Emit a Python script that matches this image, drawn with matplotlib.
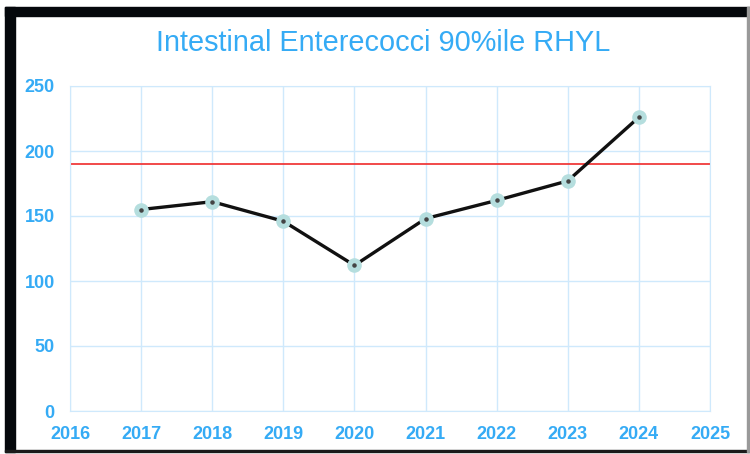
import matplotlib
matplotlib.use("Agg")
import matplotlib.pyplot as plt
from matplotlib.patches import Rectangle

years = [2017, 2018, 2019, 2020, 2021, 2022, 2023, 2024]
values = [155, 161, 146, 112, 148, 162, 177, 226]
limit = 190
x_ticks = list(range(2016, 2026))
y_ticks = [0, 50, 100, 150, 200, 250]

blue = "#35abf5"
grid = "#cfe9fc"

fig = plt.figure(figsize=(7.5, 4.54), dpi=100)
ax = fig.add_axes([70 / 750, 43 / 454, 640 / 750, 325 / 454])

ax.axhline(limit, color="#f03a3a", lw=1.3, zorder=2)
ax.plot(years, values, color="#111111", lw=2.4, zorder=3)
ax.scatter(years, values, s=110, color="#b5dede", zorder=4, linewidths=0)
ax.scatter(years, values, s=5, color="#444444", zorder=5)

ax.set_xlim(2016, 2025)
ax.set_ylim(0, 250)
ax.set_xticks(x_ticks)
ax.set_yticks(y_ticks)
ax.grid(True, color=grid, lw=1)
ax.set_axisbelow(True)
for s in ax.spines.values():
    s.set_color(grid)
ax.tick_params(length=0, colors=blue, labelsize=13, pad=11)
for lab in ax.get_xticklabels() + ax.get_yticklabels():
    lab.set_fontweight("bold")
    lab.set_fontfamily("Liberation Sans")

fig.text(383 / 750, 1 - 43 / 454, "Intestinal Enterecocci 90%ile RHYL",
         color=blue, fontsize=20.8, ha="center", va="center", family="Liberation Sans")

# frame around the chart
fig.patches.append(Rectangle((5 / 750, 1 - 16 / 454), 745 / 750, 9 / 454,
                             transform=fig.transFigure, color="#05080c"))
fig.patches.append(Rectangle((5 / 750, 1 - 452 / 454), 10 / 750, 445 / 454,
                             transform=fig.transFigure, color="#05080c"))
fig.patches.append(Rectangle((5 / 750, 1 - 452 / 454), 745 / 750, 2 / 454,
                             transform=fig.transFigure, color="#1a1a1a"))
fig.patches.append(Rectangle((747 / 750, 1 - 452 / 454), 2 / 750, 445 / 454,
                             transform=fig.transFigure, color="#999999"))

fig.savefig("out.png", dpi=100)
